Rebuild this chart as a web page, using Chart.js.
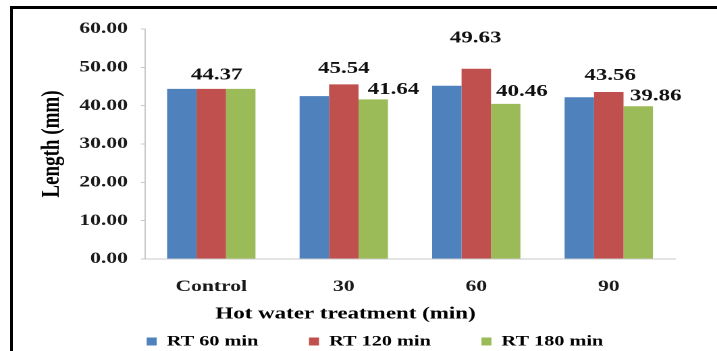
<!DOCTYPE html>
<html>
<head>
<meta charset="utf-8">
<script src="https://cdn.jsdelivr.net/npm/chart.js@4.4.1/dist/chart.umd.min.js"></script>
<style>
  html, body { margin: 0; padding: 0; background: #fff; overflow: hidden; width: 717px; height: 351px; }
  /* the chart is laid out narrow and widened, giving the broad lettering of the figure */
  #wrap { position: absolute; left: 0; top: 0; width: 531px; height: 351px; transform: scaleX(1.3503); transform-origin: 0 0; }
  #frame { position: absolute; left: 10px; top: 6px; width: 760px; height: 400px; border-top: 3px solid #000; border-left: 3px solid #000; pointer-events: none; }
</style>
</head>
<body>
<div id="wrap"><canvas id="chart"></canvas></div>
<div id="frame"></div>
<script>
const categories = ['Control', '30', '60', '90'];
const seriesNames = ['RT 60 min', 'RT 120 min', 'RT 180 min'];
const rt60 = [44.37, 42.50, 45.20, 42.20];
const rt120 = [44.37, 45.54, 49.63, 43.56];
const rt180 = [44.37, 41.64, 40.46, 39.86];
const yTickLabels = ['0.00', '10.00', '20.00', '30.00', '40.00', '50.00', '60.00'];
const seriesColors = ['#4F81BD', '#C0504D', '#9BBB59'];

// bars that carry a value label: [dataset, category, shift right, rise above bar top]
const labelSpots = [
  [1, 0, 4, 14],
  [1, 1, 0, 15.7],
  [2, 1, 15, 9.7],
  [1, 2, -0.5, 30.8],
  [2, 2, 12, 12.1],
  [1, 3, 1, 16.5],
  [2, 3, 13, 10.2]
];

const FONT = 'Liberation Serif';
const AXIS_TITLE_CX = 255.9;
const AXIS_TITLE_CY = 314;
const LEGEND_START_X = 108.6;
const LEGEND_CY = 341.5;

const valueLabels = {
  id: 'valueLabels',
  afterDatasetsDraw(chart) {
    const ctx = chart.ctx;
    ctx.save();
    ctx.font = 'bold 17px "' + FONT + '"';
    ctx.fillStyle = '#111';
    ctx.textAlign = 'center';
    ctx.textBaseline = 'middle';
    labelSpots.forEach(([ds, i, dx, rise]) => {
      const bar = chart.getDatasetMeta(ds).data[i];
      const v = chart.data.datasets[ds].data[i];
      ctx.fillText(v.toFixed(2), bar.x + dx, bar.y - rise);
    });
    ctx.restore();
  }
};

// moves the x-axis caption and the legend row to their spots under the plot
const placeBottomBlocks = {
  id: 'placeBottomBlocks',
  afterLayout(chart) {
    const t = chart.titleBlock;
    if (t) {
      const w = t.right - t.left, h = t.bottom - t.top;
      t.left = AXIS_TITLE_CX - w / 2; t.right = t.left + w;
      t.top = AXIS_TITLE_CY - h / 2; t.bottom = t.top + h;
    }
    const lg = chart.legend;
    if (lg && lg.lineWidths) {
      const pad = lg.options.labels.padding;
      const fs = lg.options.labels.font.size;
      const cur = (lg.left + pad + lg.right - lg.lineWidths[0]) / 2;
      const dx = LEGEND_START_X - cur;
      lg.left += dx; lg.right += dx;
      lg.top = LEGEND_CY - fs / 2 - pad;
      lg.bottom = chart.height;
      lg.height = lg.bottom - lg.top;
    }
  }
};

new Chart(document.getElementById('chart'), {
  type: 'bar',
  data: {
    labels: categories,
    datasets: [rt60, rt120, rt180].map((values, k) => ({
      label: seriesNames[k],
      data: values,
      backgroundColor: seriesColors[k],
      borderWidth: 0,
      categoryPercentage: 0.667,
      barPercentage: 1
    }))
  },
  options: {
    responsive: true,
    maintainAspectRatio: false,
    animation: false,
    devicePixelRatio: 2,
    layout: { padding: { left: 10, right: 31.1, top: 29, bottom: 1.6 } },
    plugins: {
      tooltip: { enabled: false },
      title: {
        display: true,
        position: 'bottom',
        weight: 500,
        text: 'Hot water treatment (min)',
        color: '#000',
        padding: 0,
        font: { family: FONT, size: 17, weight: 'bold', lineHeight: 1.2 }
      },
      legend: {
        position: 'bottom',
        maxHeight: 30,
        labels: {
          boxWidth: 7.4,
          boxHeight: 8,
          padding: 37.5,
          color: '#000',
          font: { family: FONT, size: 15, weight: 'bold' }
        }
      }
    },
    scales: {
      x: {
        grid: { display: false, drawTicks: false },
        border: { display: true, color: '#c8c8c8' },
        ticks: { padding: 18.4, color: '#1a1a1a', font: { family: FONT, size: 16, weight: 'bold' } },
        afterFit: (s) => { s.height = 40; }
      },
      y: {
        min: 0,
        max: 60,
        ticks: {
          stepSize: 10,
          padding: 9.6,
          color: '#1a1a1a',
          font: { family: FONT, size: 16, weight: 'bold' },
          callback: (v, i) => yTickLabels[i]
        },
        grid: { drawOnChartArea: false, drawTicks: true, tickLength: 3, color: '#c8c8c8' },
        border: { display: true, color: '#c8c8c8' },
        title: {
          display: true,
          text: 'Length (mm)',
          color: '#000',
          padding: { top: 17.1, bottom: 0 },
          font: { family: FONT, size: 19, weight: 'bold', lineHeight: 1.2 }
        },
        afterFit: (s) => { s.width = 97.4; }
      }
    }
  },
  plugins: [valueLabels, placeBottomBlocks]
});
</script>
</body>
</html>
